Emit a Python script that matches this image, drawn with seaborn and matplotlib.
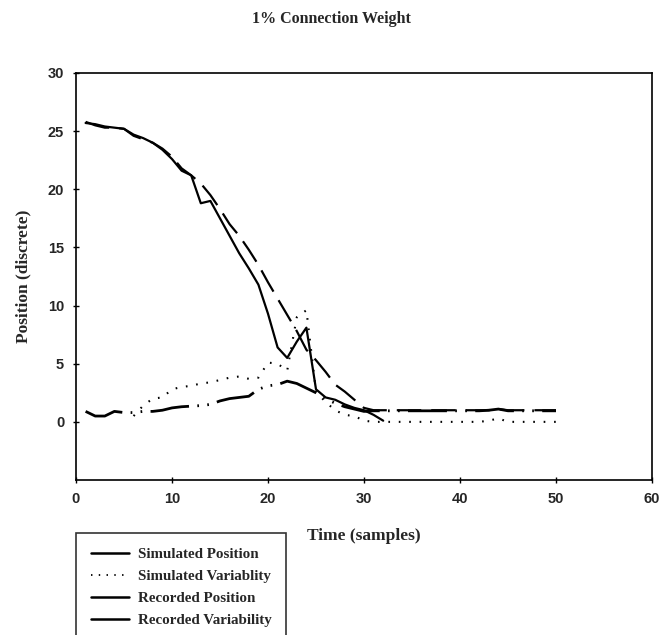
import numpy as np
import pandas as pd
import seaborn as sns
import matplotlib
matplotlib.use("Agg")
import matplotlib.pyplot as plt
from matplotlib.lines import Line2D

# values
sim_pos_x = list(range(1, 33))
sim_pos = [25.7, 25.6, 25.4, 25.3, 25.2, 24.7, 24.4, 24.0, 23.4, 22.6,
           21.6, 21.2, 18.8, 19.0, 17.5, 16.0, 14.5, 13.2, 11.8, 9.3,
           6.4, 5.5, 6.9, 8.1, 2.8, 2.1, 1.9, 1.5, 1.2, 1.0, 0.6, 0.1]

sim_var_x = list(range(6, 51))
sim_var = [0.5, 1.4, 2.0, 2.1, 2.8, 3.0, 3.1, 3.3, 3.4, 3.6,
           3.8, 3.9, 3.7, 3.8, 5.1, 5.0, 4.4, 9.0, 9.6, 2.6,
           1.7, 1.0, 0.6, 0.5, 0.1, 0.0, 0.0, 0.0, 0.0, 0.0,
           0.0, 0.0, 0.0, 0.0, 0.0, 0.0, 0.0, 0.1, 0.3, 0.0,
           0.0, 0.0, 0.0, 0.0, 0.0]

rec_pos_x = list(range(1, 51))
rec_pos = [25.8, 25.5, 25.3, 25.3, 25.2, 24.6, 24.3, 24.0, 23.5, 22.8,
           21.8, 21.2, 20.5, 19.5, 18.3, 17.0, 16.0, 14.8, 13.5, 12.0,
           10.6, 9.2, 7.8, 6.2, 5.3, 4.3, 3.2, 2.6, 1.9, 1.2,
           1.0, 1.0, 1.0, 1.0, 1.0, 1.0, 1.0, 1.0, 1.0, 1.0,
           1.0, 1.0, 1.0, 1.1, 1.0, 1.0, 1.0, 1.0, 1.0, 1.0]

rec_var_x = list(range(1, 51))
rec_var = [0.9, 0.5, 0.5, 0.9, 0.8, 0.8, 0.9, 0.9, 1.0, 1.2,
           1.3, 1.35, 1.4, 1.5, 1.8, 2.0, 2.1, 2.2, 2.8, 3.1,
           3.2, 3.5, 3.3, 2.9, 2.5, 2.0, 1.6, 1.3, 1.1, 0.9,
           0.95, 0.95, 0.95, 0.95, 0.95, 0.95, 0.95, 0.95, 0.95, 0.95,
           0.95, 0.95, 1.0, 1.1, 0.95, 0.95, 0.95, 0.95, 0.95, 0.95]

labels = ["Simulated Position", "Simulated Variablity",
          "Recorded Position", "Recorded Variability"]

sns.set_style("white")
plt.rcParams["font.family"] = ["Liberation Serif", "DejaVu Serif"]

fig = plt.figure(figsize=(6.62, 6.35), dpi=100)
ax = fig.add_axes([76 / 662, 1 - 480 / 635, 576 / 662, 407 / 635])

df_sp = pd.DataFrame({"t": sim_pos_x, "v": sim_pos})
df_sv = pd.DataFrame({"t": sim_var_x, "v": sim_var})
df_rp = pd.DataFrame({"t": rec_pos_x, "v": rec_pos})
df_rv = pd.DataFrame({"t": rec_var_x, "v": rec_var})

sns.lineplot(data=df_rv, x="t", y="v", ax=ax, color="black", lw=2.0,
             linestyle=(0, (14, 3, 0.6, 3, 0.6, 3)))
sns.lineplot(data=df_sv, x="t", y="v", ax=ax, color="black", lw=1.5,
             linestyle=(0, (0.8, 4.2)))
sns.lineplot(data=df_rp, x="t", y="v", ax=ax, color="black", lw=1.6,
             linestyle=(0, (11, 4.5)))
sns.lineplot(data=df_sp, x="t", y="v", ax=ax, color="black", lw=1.6)

ax.set_xlim(0, 60)
ax.set_ylim(-5, 30)
ax.set_xticks(range(0, 61, 10))
ax.set_yticks(range(0, 31, 5))
for s in ax.spines.values():
    s.set_visible(True)
    s.set_color("black")
    s.set_linewidth(1.2)
ax.tick_params(direction="inout", length=5, width=1, color="black",
               bottom=True, left=True, pad=6)
for lab in ax.get_xticklabels() + ax.get_yticklabels():
    lab.set_fontfamily("Liberation Sans")
    lab.set_fontweight("bold")
    lab.set_fontsize(10.5)

ax.set_xlabel("Time (samples)", fontsize=12.5, fontweight="bold", labelpad=16)
ax.set_ylabel("Position (discrete)", fontsize=12.5, fontweight="bold", labelpad=12)
fig.suptitle("1% Connection Weight", x=0.5, y=1 - 11 / 635, fontsize=11.5,
             fontweight="bold")

handles = [Line2D([], [], color="black", lw=1.8),
           Line2D([], [], color="black", lw=1.3, linestyle=(0, (0.8, 3.5))),
           Line2D([], [], color="black", lw=1.8),
           Line2D([], [], color="black", lw=1.8)]
leg = fig.legend(handles, labels, loc="upper left",
                 bbox_to_anchor=(76 / 662, 1 - 533 / 635), borderaxespad=0,
                 fancybox=False, frameon=True, edgecolor="black",
                 prop={"family": "Liberation Serif", "weight": "bold", "size": 10.8},
                 handlelength=2.5, handletextpad=0.6, labelspacing=0.55,
                 borderpad=1.0)
leg.get_frame().set_linewidth(1.2)

fig.savefig("out.png", dpi=100)
